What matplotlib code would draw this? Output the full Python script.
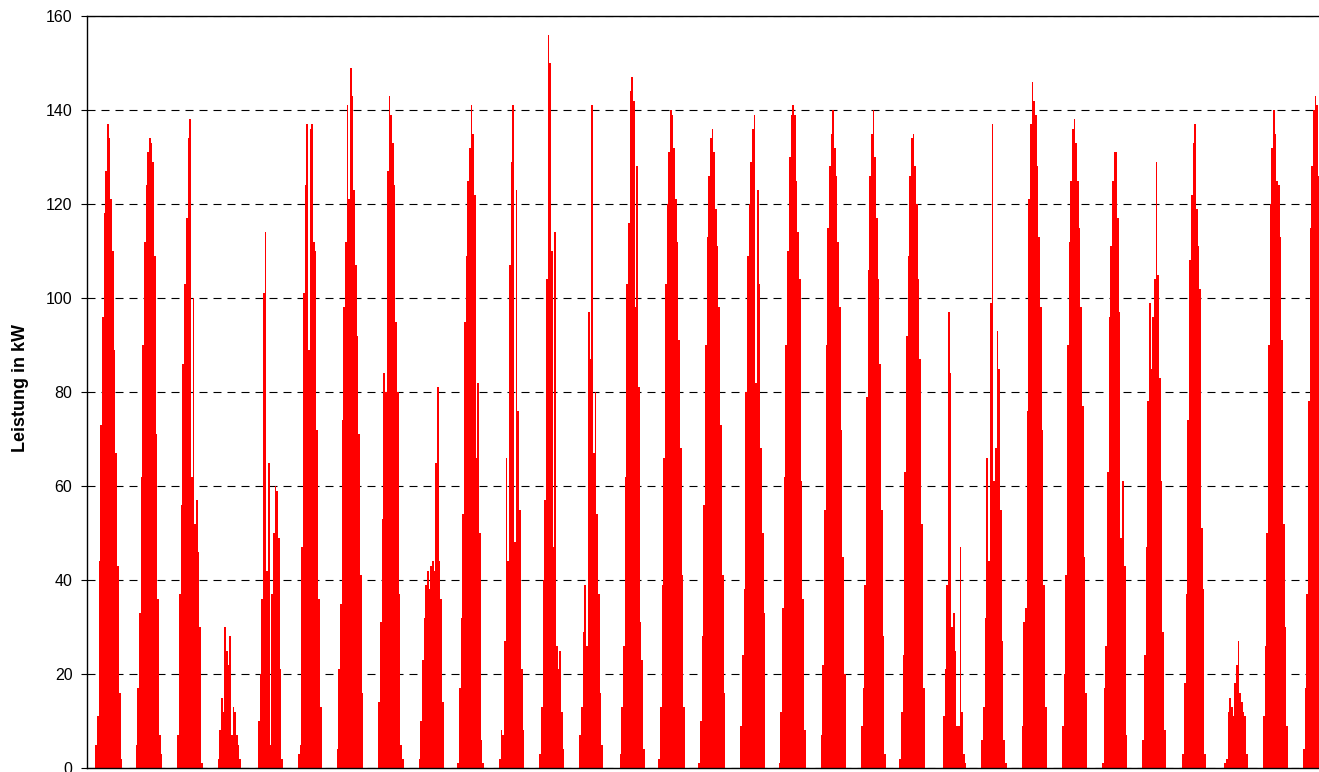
import numpy as np
import matplotlib
matplotlib.use("Agg")
import matplotlib.pyplot as plt

plt.rcParams['font.family'] = ['Liberation Sans', 'DejaVu Sans']

# hourly PV output (kW) per day; first_hour = hour of first nonzero bar
first_hour = [5, 5, 6, 6, 6, 6, 5, 6, 6, 5, 6, 6, 6, 6, 5, 5,
              6, 5, 6, 6, 5, 7, 6, 6, 6, 6, 6, 6, 7, 6, 6]

day_kw = [
    [5, 11, 44, 73, 96, 118, 127, 137, 134, 121, 110, 89, 67, 43, 16, 2],
    [5, 17, 33, 62, 90, 112, 124, 131, 134, 133, 129, 109, 71, 36, 7, 3],
    [7, 37, 56, 86, 103, 117, 134, 138, 62, 100, 52, 57, 46, 30, 1],
    [2, 8, 15, 12, 30, 25, 22, 28, 7, 13, 12, 7, 5, 2],
    [10, 20, 36, 101, 114, 42, 65, 5, 37, 50, 60, 59, 49, 21, 2],
    [3, 5, 47, 101, 124, 137, 89, 136, 137, 112, 110, 72, 36, 13],
    [4, 21, 35, 74, 98, 112, 141, 121, 149, 143, 123, 107, 92, 71, 41, 16],
    [14, 31, 53, 84, 80, 127, 143, 139, 133, 124, 95, 80, 37, 5, 2],
    [2, 10, 23, 32, 39, 42, 38, 43, 44, 42, 65, 81, 44, 36, 14],
    [1, 17, 32, 54, 95, 109, 125, 132, 141, 135, 122, 66, 82, 50, 6, 1],
    [2, 8, 7, 27, 66, 44, 107, 129, 141, 48, 123, 76, 55, 21, 8],
    [3, 13, 40, 57, 104, 156, 150, 110, 47, 114, 26, 21, 25, 12, 4],
    [7, 13, 29, 39, 26, 97, 87, 141, 67, 80, 54, 37, 16, 5],
    [3, 13, 26, 62, 103, 116, 144, 147, 142, 98, 128, 81, 31, 23, 4],
    [2, 13, 39, 66, 103, 120, 131, 140, 139, 132, 121, 112, 91, 68, 41, 13],
    [1, 10, 28, 56, 90, 113, 126, 134, 136, 131, 119, 111, 98, 73, 41, 16],
    [9, 24, 38, 80, 109, 120, 129, 136, 139, 82, 123, 103, 68, 50, 33],
    [1, 12, 34, 62, 90, 110, 130, 139, 141, 139, 125, 114, 104, 61, 36, 8],
    [7, 22, 55, 90, 115, 128, 135, 140, 132, 126, 112, 98, 72, 45, 20],
    [9, 17, 39, 79, 106, 126, 135, 140, 130, 117, 104, 86, 55, 28, 3],
    [2, 12, 24, 63, 92, 109, 126, 134, 135, 128, 120, 104, 87, 52, 17],
    [11, 21, 39, 97, 84, 30, 33, 25, 9, 9, 47, 12, 3, 1],
    [6, 13, 32, 66, 44, 99, 137, 61, 68, 93, 85, 55, 27, 6, 1],
    [9, 31, 34, 76, 121, 137, 146, 142, 139, 128, 113, 98, 72, 39, 13],
    [9, 20, 41, 90, 112, 125, 136, 138, 133, 125, 115, 98, 77, 45, 16],
    [1, 17, 26, 63, 96, 111, 125, 131, 131, 117, 97, 49, 61, 43, 7],
    [6, 24, 47, 78, 99, 85, 96, 104, 129, 105, 83, 61, 29, 8],
    [3, 18, 37, 74, 108, 122, 133, 137, 119, 111, 102, 51, 38, 3],
    [1, 2, 12, 15, 13, 11, 18, 22, 27, 16, 14, 12, 11, 3],
    [11, 26, 50, 90, 120, 132, 140, 135, 125, 124, 113, 91, 52, 30, 9],
    [4, 17, 37, 78, 115, 128, 140, 143, 141, 126],
]

y_ticks = [0, 20, 40, 60, 80, 100, 120, 140, 160]
n_hours = 31 * 24

# flatten into one hourly series
power = np.zeros(n_hours)
for d, (h0, vals) in enumerate(zip(first_hour, day_kw)):
    i = d * 24 + h0
    power[i:i + len(vals)] = vals

W, H = 1319, 772
fig = plt.figure(figsize=(W / 100, H / 100), dpi=100)
# plot area runs past the right/bottom edge (the original is cropped)
ax = fig.add_axes([87 / W, 4 / H, n_hours * 1.675 / W, 752 / H])

ax.bar(np.arange(n_hours), power, width=1.0, align='edge',
       color='#ff0000', linewidth=0, antialiased=False, zorder=2)

ax.set_xlim(0, n_hours)
ax.set_ylim(0, 160)
ax.set_yticks(y_ticks)
ax.set_xticks([])

ax.set_axisbelow(True)
ax.yaxis.grid(True, color='black', linewidth=0.8, linestyle=(0, (7.2, 5.4)))

for s in ['left', 'bottom', 'top']:
    ax.spines[s].set_color('black')
    ax.spines[s].set_linewidth(1.0)
ax.spines['right'].set_visible(False)

ax.tick_params(axis='y', direction='out', length=4.5, width=0.8, pad=6,
               labelsize=11.5, colors='black')
ax.set_ylabel('Leistung in kW', fontsize=13, fontweight='bold')
ax.yaxis.set_label_coords(-58 / (n_hours * 1.675), 0.505)

fig.savefig('out.png', dpi=100)
